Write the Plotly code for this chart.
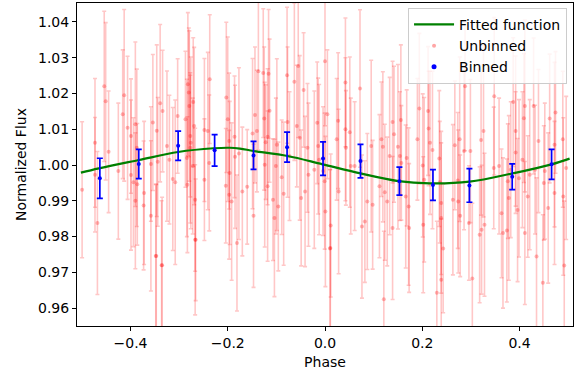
import plotly.graph_objects as go

# ---------------- data ----------------
# Unbinned measurements, grouped by phase range
unb_phase_a = [-0.4995, -0.473, -0.473, -0.468, -0.454, -0.451, -0.445, -0.425, -0.413, -0.416,
               -0.406, -0.399, -0.399, -0.394, -0.390, -0.390, -0.386, -0.387, -0.372, -0.373,
               -0.358, -0.358, -0.354, -0.346, -0.344, -0.347, -0.339, -0.334, -0.335, -0.325,
               -0.320, -0.313, -0.308, -0.303, -0.287, -0.284, -0.282, -0.280, -0.279, -0.277,
               -0.276, -0.272, -0.271, -0.269, -0.267, -0.266, -0.283, -0.277]
unb_flux_a = [0.9931, 1.0062, 0.9973, 0.9838, 1.0220, 1.0178, 1.0037, 0.9983, 1.0195, 1.0142,
              1.0104, 1.0081, 0.9972, 0.9952, 1.0114, 0.9900, 0.9946, 1.0048, 0.9922, 0.9887,
              1.0003, 0.9858, 1.0119, 1.0096, 1.0009, 0.9746, 1.0173, 1.0151, 0.9720, 1.0053,
              1.0015, 0.9961, 0.9952, 1.0137, 1.0128, 1.0020, 1.0226, 1.0203, 1.0165, 1.0081,
              1.0062, 0.9997, 1.0176, 1.0109, 0.9903, 0.9791, 0.9945, 1.0048]
unb_err_a = [0.019, 0.018, 0.016, 0.020, 0.021, 0.022, 0.017, 0.019, 0.024, 0.018,
             0.020, 0.016, 0.021, 0.018, 0.023, 0.019, 0.017, 0.022, 0.020, 0.018,
             0.016, 0.021, 0.019, 0.024, 0.018, 0.020, 0.022, 0.017, 0.019, 0.021,
             0.018, 0.020, 0.023, 0.016, 0.019, 0.022, 0.020, 0.018, 0.021, 0.017,
             0.024, 0.019, 0.018, 0.022, 0.020, 0.017, 0.019, 0.021]

unb_phase_b = [-0.248, -0.248, -0.241, -0.238, -0.237, -0.203, -0.204, -0.200, -0.197, -0.196,
               -0.197, -0.192, -0.186, -0.185, -0.181, -0.177, -0.170, -0.160, -0.149, -0.147,
               -0.144, -0.140, -0.137, -0.127, -0.125, -0.124, -0.122, -0.118, -0.118, -0.116,
               -0.114, -0.107, -0.104, -0.101, -0.099, -0.096, -0.089, -0.085, -0.078, -0.077,
               -0.073, -0.063, -0.058, -0.055, -0.052, -0.049, -0.044, -0.041, -0.036, -0.034,
               -0.022, -0.016, -0.014, -0.012, -0.004]
unb_flux_b = [1.0098, 0.9959, 1.0095, 1.0006, 1.0240, 1.0189, 0.9942, 1.0128, 1.0067, 0.9978,
              0.9917, 0.9898, 1.0079, 1.0023, 0.9782, 1.0032, 0.9926, 0.9939, 1.0088, 0.9858,
              1.0140, 1.0095, 1.0262, 1.0257, 1.0130, 1.0001, 1.0064, 1.0079, 0.9941, 1.0255,
              1.0152, 0.9903, 0.9852, 0.9997, 1.0057, 0.9884, 0.9966, 0.9920, 1.0251, 1.0120,
              1.0025, 1.0233, 1.0109, 1.0277, 1.0076, 0.9908, 1.0210, 0.9926, 1.0048, 0.9973,
              0.9987, 1.0118, 1.0053, 1.0015, 0.9983]
unb_err_b = [0.020, 0.017, 0.022, 0.019, 0.018, 0.021, 0.016, 0.023, 0.019, 0.020,
             0.018, 0.022, 0.017, 0.020, 0.019, 0.024, 0.018, 0.016, 0.021, 0.020,
             0.019, 0.017, 0.022, 0.018, 0.020, 0.023, 0.016, 0.019, 0.021, 0.018,
             0.020, 0.017, 0.022, 0.019, 0.024, 0.018, 0.016, 0.020, 0.019, 0.021,
             0.018, 0.022, 0.017, 0.020, 0.023, 0.019, 0.016, 0.021, 0.018, 0.020,
             0.022, 0.017, 0.019, 0.021, 0.018]

unb_phase_c = [-0.0006, 0.0008, 0.0049, 0.0117, 0.0103, 0.024, 0.027, 0.028, 0.042, 0.042,
               0.043, 0.051, 0.053, 0.061, 0.072, 0.076, 0.082, 0.087, 0.095, 0.098,
               0.112, 0.116, 0.119, 0.123, 0.128, 0.133, 0.139, 0.139, 0.142, 0.150,
               0.154, 0.156, 0.157, 0.166, 0.168, 0.172, 0.173, 0.190, 0.194, 0.201,
               0.202, 0.204, 0.212, 0.213, 0.216, 0.221, 0.235, 0.236, 0.239, 0.243,
               0.239]
unb_flux_c = [0.9955, 0.9870, 1.0142, 0.9831, 0.9767, 1.0072, 1.0124, 0.9926, 1.0231, 1.0100,
              1.0048, 1.0092, 0.9997, 0.9997, 1.0214, 0.9828, 0.9842, 0.9898, 1.0053, 0.9889,
              0.9941, 1.0072, 1.0051, 0.9924, 0.9898, 1.0025, 1.0120, 0.9824, 1.0086, 1.0051,
              1.0025, 1.0126, 1.0006, 0.9912, 1.0020, 0.9884, 0.9824, 1.0072, 1.0158, 0.9999,
              0.9833, 0.9959, 1.0151, 1.0102, 1.0062, 1.0042, 1.0018, 0.9952, 0.9852, 0.9767,
              0.9894]
unb_err_c = [0.019, 0.021, 0.018, 0.020, 0.022, 0.017, 0.019, 0.023, 0.018, 0.020,
             0.016, 0.021, 0.019, 0.018, 0.022, 0.020, 0.017, 0.019, 0.024, 0.018,
             0.020, 0.016, 0.021, 0.019, 0.018, 0.022, 0.017, 0.020, 0.019, 0.023,
             0.018, 0.021, 0.016, 0.020, 0.019, 0.022, 0.018, 0.017, 0.021, 0.020,
             0.019, 0.023, 0.018, 0.016, 0.020, 0.022, 0.019, 0.017, 0.021, 0.018,
             0.020]

unb_phase_d = [0.263, 0.267, 0.274, 0.277, 0.278, 0.273, 0.286, 0.288, 0.299, 0.296,
               0.318, 0.321, 0.322, 0.326, 0.328, 0.347, 0.348, 0.358, 0.363, 0.366,
               0.374, 0.376, 0.378, 0.382, 0.387, 0.392, 0.392, 0.396, 0.399, 0.406,
               0.409, 0.411, 0.411, 0.417, 0.421, 0.429, 0.432, 0.435, 0.439, 0.450,
               0.452, 0.459, 0.462, 0.472, 0.472, 0.474, 0.489, 0.490, 0.492, 0.496]
unb_flux_d = [0.9903, 1.0055, 0.9898, 1.0072, 0.9858, 0.9957, 1.0039, 1.0220, 1.0039, 0.9838,
              0.9805, 1.0070, 0.9819, 1.0095, 0.9833, 0.9992, 1.0192, 0.9997, 0.9865, 0.9810,
              0.9817, 0.9955, 0.9908, 0.9987, 1.0176, 1.0095, 1.0035, 0.9874, 0.9963, 1.0015,
              1.0131, 1.0165, 0.9810, 0.9912, 0.9973, 1.0165, 0.9987, 0.9744, 1.0067, 0.9950,
              0.9983, 0.9880, 1.0130, 1.0057, 0.9922, 1.0147, 1.0072, 0.9912, 0.9719, 0.9992]
unb_err_d = [0.021, 0.018, 0.020, 0.023, 0.017, 0.019, 0.022, 0.018, 0.020, 0.016,
             0.019, 0.021, 0.018, 0.024, 0.020, 0.017, 0.022, 0.019, 0.018, 0.021,
             0.020, 0.016, 0.023, 0.019, 0.018, 0.021, 0.017, 0.020, 0.022, 0.019,
             0.018, 0.024, 0.020, 0.017, 0.021, 0.019, 0.018, 0.022, 0.020, 0.016,
             0.019, 0.021, 0.018, 0.023, 0.020, 0.017, 0.019, 0.022, 0.018, 0.020]

unb_phase_e = [-0.348, -0.336, -0.267, 0.121, 0.011, 0.230, 0.239, 0.303, 0.448, 0.000]
unb_flux_e = [0.9746, 0.9720, 0.9791, 0.9625, 0.9768, 0.9643, 0.9679, 0.9683, 0.9671, 1.0290]
unb_err_e = [0.020, 0.018, 0.021, 0.019, 0.022, 0.020, 0.017, 0.021, 0.019, 0.018]

# Binned points
bin_phase = [-0.463, -0.383, -0.302, -0.227, -0.147, -0.078, -0.004,
             0.073, 0.153, 0.222, 0.297, 0.385, 0.466]
bin_flux = [0.9963, 1.0003, 1.0054, 1.0041, 1.0027, 1.0050, 1.0018,
            1.0011, 0.9955, 0.9944, 0.9943, 0.9967, 1.0002]
bin_err = [0.0056, 0.0041, 0.0041, 0.0044, 0.0039, 0.0042, 0.0047,
           0.0047, 0.0039, 0.0043, 0.0047, 0.0036, 0.0042]

# Fitted function
fit_phase = [-0.502, -0.465, -0.383, -0.302, -0.229, -0.196, -0.175, -0.147, -0.077,
             -0.005, 0.073, 0.151, 0.215, 0.297, 0.386, 0.466, 0.503]
fit_flux = [0.99787, 0.99907, 1.0014, 1.00365, 1.00469, 1.00483, 1.0046, 1.00393, 1.00253,
            1.0002, 0.99767, 0.99551, 0.99486, 0.99534, 0.99767, 1.0002, 1.0018]

x_ticks = [-0.4, -0.2, 0.0, 0.2, 0.4]
y_ticks = [0.96, 0.97, 0.98, 0.99, 1.00, 1.01, 1.02, 1.03, 1.04]

unb_phase = unb_phase_a + unb_phase_b + unb_phase_c + unb_phase_d + unb_phase_e
unb_flux = unb_flux_a + unb_flux_b + unb_flux_c + unb_flux_d + unb_flux_e
unb_err = unb_err_a + unb_err_b + unb_err_c + unb_err_d + unb_err_e

FONT = "DejaVu Sans"

fig = go.Figure()

fig.add_trace(go.Scatter(
    x=unb_phase, y=unb_flux, mode="markers", name="Unbinned",
    marker=dict(color="rgba(255,0,0,0.28)", size=4),
    error_y=dict(type="data", array=unb_err, visible=True,
                 color="rgba(255,0,0,0.22)", thickness=1.6, width=2),
    showlegend=False,
))

fig.add_trace(go.Scatter(
    x=fit_phase, y=fit_flux, mode="lines", name="Fitted function",
    line=dict(color="green", width=2.2, shape="spline"),
))

fig.add_trace(go.Scatter(
    x=bin_phase, y=bin_flux, mode="markers", name="Binned",
    marker=dict(color="blue", size=4),
    error_y=dict(type="data", array=bin_err, visible=True,
                 color="blue", thickness=1.7, width=3),
    showlegend=False,
))

# legend proxies (ordered as in the reference)
fig.add_trace(go.Scatter(x=[None], y=[None], mode="markers", name="Unbinned",
                         marker=dict(color="rgba(255,0,0,0.35)", size=4)))
fig.add_trace(go.Scatter(x=[None], y=[None], mode="markers", name="Binned",
                         marker=dict(color="blue", size=5)))

axis_common = dict(
    showline=True, linecolor="black", linewidth=1, mirror=True,
    ticks="outside", ticklen=4, tickcolor="black", tickwidth=1,
    showgrid=False, zeroline=False,
    tickfont=dict(family=FONT, size=14, color="black"),
)

fig.update_xaxes(range=[-0.51, 0.51], tickvals=x_ticks, tickformat=".1f",
                 title=dict(text="Phase", font=dict(family=FONT, size=14, color="black"), standoff=7),
                 **axis_common)
fig.update_yaxes(range=[0.955, 1.0453], tickvals=y_ticks, tickformat=".2f",
                 title=dict(text="Normalized Flux", font=dict(family=FONT, size=14, color="black"), standoff=8),
                 **axis_common)

fig.update_layout(
    width=574, height=372,
    margin=dict(l=77, r=1, t=3, b=46),
    paper_bgcolor="white", plot_bgcolor="white",
    font=dict(family=FONT, size=14, color="black"),
    legend=dict(x=0.988, y=0.985, xanchor="right", yanchor="top",
                bgcolor="rgba(255,255,255,0.8)", bordercolor="#cccccc", borderwidth=1,
                font=dict(family=FONT, size=14, color="black"),
                itemwidth=40, tracegroupgap=0),
)

fig.write_html("out.html")
